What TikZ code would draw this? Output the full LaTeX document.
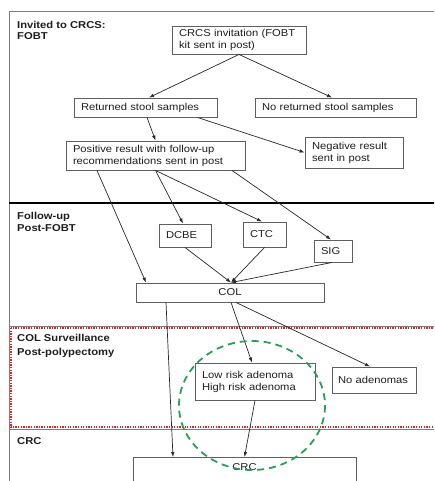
\documentclass[tikz,border=0pt]{standalone}
\usepackage{fontspec}
\setmainfont{Liberation Sans}[FakeStretch=1.12]
\usetikzlibrary{arrows.meta}
\definecolor{boxc}{RGB}{95,95,95}
\definecolor{linec}{RGB}{40,40,40}
\definecolor{txtc}{RGB}{30,30,30}
\definecolor{framec}{RGB}{125,125,125}
\definecolor{redd}{RGB}{225,35,40}
\definecolor{greend}{RGB}{40,160,85}
\begin{document}
\begin{tikzpicture}[x=1pt,y=-1pt,
  every node/.style={font=\fontsize{10}{12}\selectfont, text=txtc},
  box/.style={draw=boxc, line width=0.9pt, fill=white, inner xsep=7pt, inner ysep=2pt, align=left},
  lbl/.style={font=\fontsize{10}{12}\selectfont\bfseries, anchor=base west, inner sep=0pt},
  arr/.style={draw=linec, line width=0.7pt, -{Latex[length=5pt,width=3.6pt]}},
  sectline/.style={draw=framec, line width=0.8pt},
  reddot/.style={draw=redd, line width=2pt, dash pattern=on 1.3pt off 1.3pt},
  greendash/.style={draw=greend, line width=1.8pt, dash pattern=on 7pt off 5pt}
]
\useasboundingbox (0,0) rectangle (434,481);
\clip (0,0) rectangle (434,481);
\fill[white] (0,0) rectangle (434,481);

% frame and section lines
\draw[sectline, line width=0.9pt] (9,485) -- (9,11) -- (440,11);
\draw[black, line width=1.5pt] (9,203) -- (440,203);
\draw[sectline] (9,326) -- (440,326);
\draw[sectline] (9,429.5) -- (440,429.5);
\draw[reddot] (10.5,328) rectangle (445,427);

% section labels
\node[lbl] (l1a) at (17,28.5) {Invited to CRCS:};
\node[lbl] (l1b) at (17,39.5) {FOBT};
\node[lbl] (l2a) at (17,219.5) {Follow-up};
\node[lbl] (l2b) at (17,231.5) {Post-FOBT};
\node[lbl] (l3a) at (17,341) {COL Surveillance};
\node[lbl] (l3b) at (17,355) {Post-polypectomy};
\node[lbl] (l4) at (17,444.5) {CRC};

% boxes
\node[box, minimum height=28pt, text width=120pt] (inv) at (239,40) {CRCS invitation (FOBT\\kit sent in post)};
\node[box, minimum height=19pt, text width=129pt] (ret) at (145.5,107.5) {Returned stool samples};
\node[box, minimum height=19pt, text width=147pt] (noret) at (335.5,107.5) {No returned stool samples};
\node[box, minimum height=29pt, text width=165pt] (pos) at (155.5,155.5) {Positive result with follow-up\\recommendations sent in post};
\node[box, minimum height=31pt, text width=84pt] (neg) at (354,152.5) {Negative result\\sent in post};
\node[box, minimum height=23pt, text width=38pt] (dcbe) at (185,235.5) {DCBE};
\node[box, minimum height=25pt, text width=29pt] (ctc) at (264.5,234.5) {CTC};
\node[box, minimum height=22pt, text width=24pt] (sig) at (333,251) {SIG};
\node[box, minimum height=19pt, text width=174pt, align=center] (col) at (230,292.5) {COL};
\node[box, minimum height=37pt, text width=106pt] (low) at (255,381.5) {Low risk adenoma\\High risk adenoma};
\node[box, minimum height=26pt, inner xsep=6pt, text width=72pt] (noad) at (374,380) {No adenomas};
\node[box, anchor=north, minimum width=223pt, text height=11pt, text depth=22pt, align=center] (crc) at (244.5,457) {CRC};

% connectors
\draw[arr] (inv.south) -- ([xshift=3.5pt]ret.north);
\draw[arr] (inv.south) -- ([xshift=-3.5pt]noret.north);
\draw[arr] ([xshift=1.5pt]ret.south) -- (pos.north);
\draw[arr] ([xshift=-20pt]ret.south east) -- (neg.west);
\draw[arr] ([xshift=-58.5pt]pos.south) -- ([xshift=-84pt]col.north);
\draw[arr] (pos.south) -- ([xshift=-2pt]dcbe.north);
\draw[arr] (pos.south) -- ([xshift=-2.5pt]ctc.north);
\draw[arr] ([xshift=76.5pt]pos.south) -- ([xshift=-2pt]sig.north);
\draw[arr] (dcbe.south) -- ([xshift=1pt]col.north);
\draw[arr] (ctc.south) -- ([xshift=1pt]col.north);
\draw[arr] ([xshift=-1pt]sig.south) -- ([xshift=1pt]col.north);
\draw[arr] ([xshift=-64pt]col.south) -- ([xshift=-71.5pt]crc.north);
\draw[arr] ([xshift=1pt]col.south) -- ([xshift=-3pt]low.north);
\draw[arr] ([xshift=6pt]col.south) -- ([xshift=-4pt]noad.north);
\draw[arr] (low.south) -- (crc.north);

% highlight
\draw[greendash] (252,405.5) ellipse [x radius=73, y radius=64.5];
\end{tikzpicture}
\end{document}
